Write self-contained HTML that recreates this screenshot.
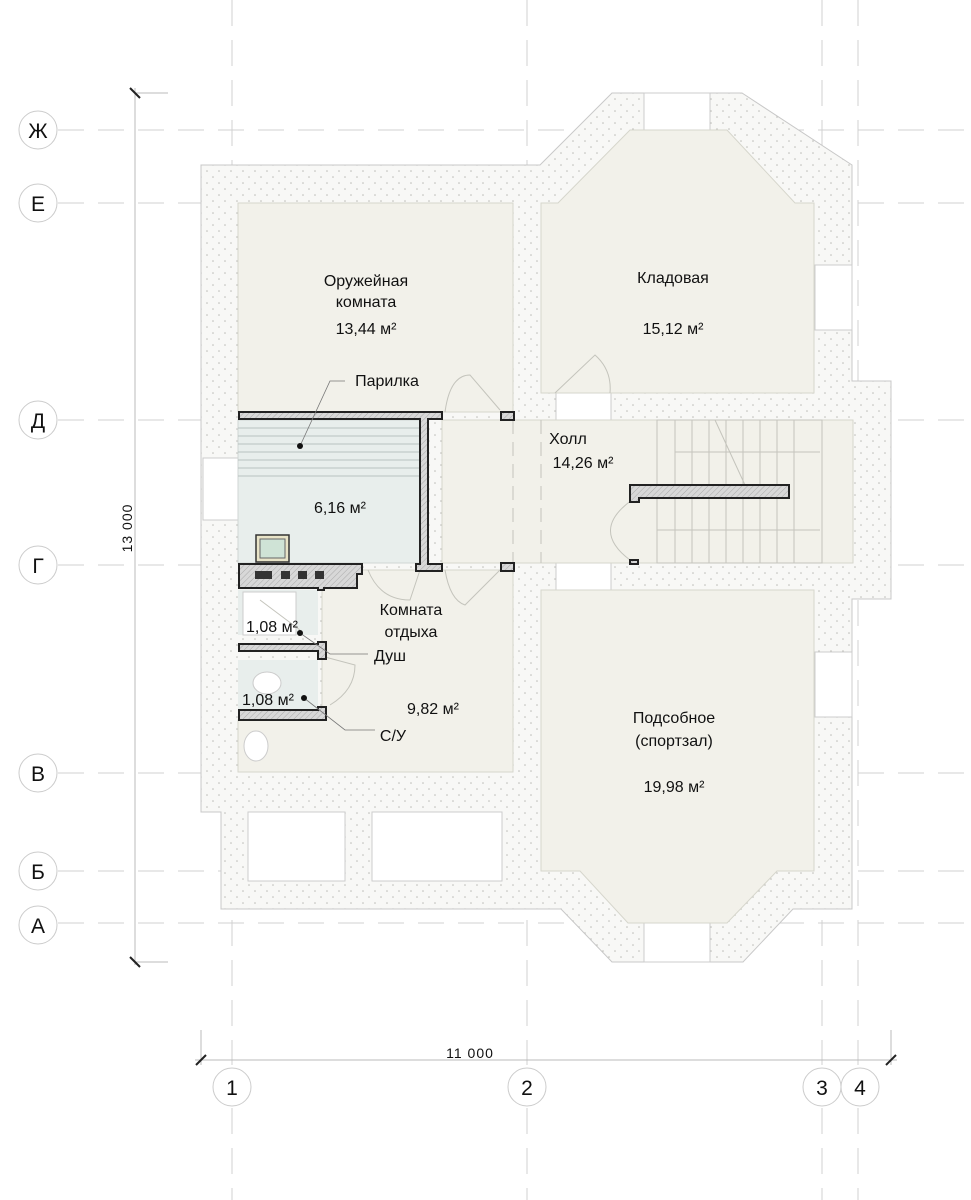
<!DOCTYPE html>
<html><head><meta charset="utf-8"><style>
html,body{margin:0;padding:0;background:#fff;}
svg{display:block;}
text{font-family:"Liberation Sans",sans-serif;fill:#111;}
</style></head><body>
<svg width="971" height="1200" viewBox="0 0 971 1200" xmlns="http://www.w3.org/2000/svg">
<defs>
<pattern id="dots" width="12" height="12" patternUnits="userSpaceOnUse">
<rect width="12" height="12" fill="#f8f8f6"/>
<circle cx="3" cy="3" r="0.8" fill="#bdbdb8"/>
<circle cx="9" cy="9" r="0.8" fill="#bdbdb8"/>
</pattern>
<pattern id="hatch" width="4" height="4" patternUnits="userSpaceOnUse" patternTransform="rotate(45)">
<rect width="4" height="4" fill="#d8d8d8"/><line x1="0" y1="0" x2="0" y2="4" stroke="#aaa" stroke-width="1"/>
</pattern>
</defs>

<g stroke="#d0d0d0" stroke-width="1" stroke-dasharray="26,14" fill="none">
<line x1="232" y1="0" x2="232" y2="1065"/>
<line x1="527" y1="0" x2="527" y2="1065"/>
<line x1="822" y1="0" x2="822" y2="1065"/>
<line x1="858" y1="0" x2="858" y2="1065"/>
<line x1="232" y1="1108" x2="232" y2="1200"/>
<line x1="527" y1="1108" x2="527" y2="1200"/>
<line x1="822" y1="1108" x2="822" y2="1200"/>
<line x1="858" y1="1108" x2="858" y2="1200"/>
<line x1="58" y1="130" x2="971" y2="130"/>
<line x1="58" y1="203" x2="971" y2="203"/>
<line x1="58" y1="420" x2="971" y2="420"/>
<line x1="58" y1="565" x2="971" y2="565"/>
<line x1="58" y1="773" x2="971" y2="773"/>
<line x1="58" y1="871" x2="971" y2="871"/>
<line x1="58" y1="923" x2="971" y2="923"/>
</g>

<path d="M201,165 L540,165 L612,93 L742,93 L852,165 L852,381 L891,381 L891,599 L852,599 L852,909 L793,909 L743,962 L612,962 L561,909 L221,909 L221,812 L201,812 Z" fill="url(#dots)" stroke="#c8c8c8" stroke-width="1"/>
<rect x="248" y="812" width="97" height="69" fill="#fff" stroke="#ccc"/>
<rect x="372" y="812" width="130" height="69" fill="#fff" stroke="#ccc"/>
<g fill="#fff" stroke="#ccc">
<rect x="644" y="93" width="66" height="37"/>
<rect x="644" y="923" width="66" height="39"/>
<rect x="815" y="265" width="37" height="65"/>
<rect x="815" y="652" width="37" height="65"/>
<rect x="203" y="458" width="35" height="62"/>
<rect x="556" y="393" width="55" height="27"/>
<rect x="556" y="562" width="55" height="28"/>
</g>

<g fill="#f2f1ea" stroke="#d6d6cc">
<rect x="238" y="203" width="275" height="209"/>
<path d="M541,203 L558,203 L630,130 L727,130 L795,203 L814,203 L814,393 L541,393 Z"/>
<rect x="442" y="420" width="411" height="143"/>
<path d="M322,570 L513,570 L513,772 L238,772 L238,720 L322,720 Z"/>
<path d="M541,590 L814,590 L814,871 L777,871 L727,923 L628,923 L580,871 L541,871 Z"/>
</g>
<rect x="238" y="420" width="182" height="143" fill="#e8eeec" stroke="#d0d6d4"/>
<g stroke="#b8c2c0" stroke-width="1">
<line x1="238" y1="428" x2="420" y2="428"/><line x1="238" y1="436" x2="420" y2="436"/>
<line x1="238" y1="444" x2="420" y2="444"/><line x1="238" y1="452" x2="420" y2="452"/>
<line x1="238" y1="460" x2="420" y2="460"/><line x1="238" y1="468" x2="420" y2="468"/>
<line x1="238" y1="476" x2="420" y2="476"/>
</g>
<rect x="238" y="590" width="80" height="45" fill="#e8eeec"/>
<rect x="238" y="660" width="80" height="55" fill="#e8eeec"/>
<rect x="243" y="592" width="53" height="43" fill="#fff" stroke="#ccc"/>
<ellipse cx="267" cy="683" rx="14" ry="11" fill="#fff" stroke="#ccc"/>
<ellipse cx="256" cy="746" rx="12" ry="15" fill="#fff" stroke="#ccc"/>

<g stroke="#c4c4bc" fill="none">
<rect x="657" y="420" width="165" height="143"/>
<line x1="675" y1="420" x2="675" y2="563"/><line x1="692" y1="420" x2="692" y2="563"/>
<line x1="709" y1="420" x2="709" y2="563"/><line x1="726" y1="420" x2="726" y2="563"/>
<line x1="743" y1="420" x2="743" y2="563"/><line x1="760" y1="420" x2="760" y2="563"/>
<line x1="777" y1="420" x2="777" y2="563"/><line x1="794" y1="420" x2="794" y2="563"/>
<line x1="675" y1="452" x2="820" y2="452"/><line x1="657" y1="530" x2="820" y2="530"/>
<line x1="715" y1="420" x2="745" y2="485"/>
<line x1="541" y1="420" x2="541" y2="563" stroke-dasharray="14,8"/>
<line x1="513" y1="420" x2="513" y2="563" stroke-dasharray="14,8"/>
<path d="M632,500 Q590,530 630,560"/>
<path d="M555,393 L595,355 Q612,370 610,393"/>
<path d="M445,412 Q450,375 470,375 L500,410"/>
<path d="M368,570 Q380,600 410,600 L420,570"/>
<path d="M445,570 Q450,600 465,605 L500,570"/>
<path d="M325,657 L355,665 Q355,690 330,705"/>
<line x1="260" y1="600" x2="300" y2="630"/>
</g>

<g fill="url(#hatch)" stroke="#222" stroke-width="2">
<path d="M239,412 L442,412 L442,419 L428,419 L428,564 L442,564 L442,571 L416,571 L416,564 L420,564 L420,419 L239,419 Z"/>
<rect x="501" y="412" width="13" height="8"/>
<rect x="501" y="563" width="13" height="8"/>
<path d="M239,564 L362,564 L362,574 L357,574 L357,588 L324,588 L324,590 L318,590 L318,588 L239,588 Z"/>
<path d="M239,644 L318,644 L318,642 L326,642 L326,659 L318,659 L318,651 L239,651 Z"/>
<path d="M239,710 L318,710 L318,707 L326,707 L326,720 L239,720 Z"/>
<path d="M630,485 L789,485 L789,498 L639,498 L639,502 L630,502 Z"/>
<rect x="630" y="560" width="8" height="4"/>
</g>
<g fill="#333"><rect x="255" y="571" width="17" height="8"/><rect x="281" y="571" width="9" height="8"/><rect x="298" y="571" width="9" height="8"/><rect x="315" y="571" width="9" height="8"/></g>
<rect x="256" y="535" width="33" height="27" fill="#e8e4c8" stroke="#333" stroke-width="1.5"/>
<rect x="260" y="539" width="25" height="19" fill="#cfe3d6" stroke="#666"/>

<g stroke="#777" fill="none" stroke-width="0.8">
<polyline points="300,446 330,381 345,381"/>
<polyline points="300,633 330,654 368,654"/>
<polyline points="304,698 345,730 375,730"/>
</g>
<g fill="#111"><circle cx="300" cy="446" r="3"/><circle cx="300" cy="633" r="3"/><circle cx="304" cy="698" r="3"/></g>

<g font-size="16" text-anchor="middle">
<text x="366" y="286">Оружейная</text>
<text x="366" y="307">комната</text>
<text x="366" y="334">13,44 м²</text>
<text x="387" y="386">Парилка</text>
<text x="673" y="283">Кладовая</text>
<text x="673" y="334">15,12 м²</text>
<text x="568" y="444">Холл</text>
<text x="583" y="468">14,26 м²</text>
<text x="340" y="513">6,16 м²</text>
<text x="411" y="615">Комната</text>
<text x="411" y="637">отдыха</text>
<text x="272" y="632">1,08 м²</text>
<text x="268" y="705">1,08 м²</text>
<text x="390" y="661">Душ</text>
<text x="393" y="741">С/У</text>
<text x="433" y="714">9,82 м²</text>
<text x="674" y="723">Подсобное</text>
<text x="674" y="746">(спортзал)</text>
<text x="674" y="792">19,98 м²</text>
</g>

<g stroke="#bbb" stroke-width="1">
<line x1="135" y1="88" x2="135" y2="965"/>
<line x1="135" y1="93" x2="168" y2="93"/>
<line x1="135" y1="962" x2="168" y2="962"/>
<line x1="195" y1="1060" x2="897" y2="1060"/>
<line x1="201" y1="1030" x2="201" y2="1065"/>
<line x1="891" y1="1030" x2="891" y2="1065"/>
</g>
<g stroke="#222" stroke-width="2">
<line x1="130" y1="88" x2="140" y2="98"/>
<line x1="130" y1="957" x2="140" y2="967"/>
<line x1="196" y1="1065" x2="206" y2="1055"/>
<line x1="886" y1="1065" x2="896" y2="1055"/>
</g>
<text x="470" y="1058" font-size="14" text-anchor="middle" letter-spacing="1">11 000</text>
<text transform="translate(132,528) rotate(-90)" font-size="14" text-anchor="middle" letter-spacing="1">13 000</text>

<g fill="#fff" stroke="#ccc">
<circle cx="38" cy="130" r="19"/><circle cx="38" cy="203" r="19"/><circle cx="38" cy="420" r="19"/>
<circle cx="38" cy="565" r="19"/><circle cx="38" cy="773" r="19"/><circle cx="38" cy="871" r="19"/>
<circle cx="38" cy="925" r="19"/>
<circle cx="232" cy="1087" r="19"/><circle cx="527" cy="1087" r="19"/><circle cx="822" cy="1087" r="19"/><circle cx="860" cy="1087" r="19"/>
</g>
<g font-size="21" text-anchor="middle">
<text x="38" y="138">Ж</text><text x="38" y="211">Е</text><text x="38" y="428">Д</text>
<text x="38" y="573">Г</text><text x="38" y="781">В</text><text x="38" y="879">Б</text><text x="38" y="933">А</text>
<text x="232" y="1095">1</text><text x="527" y="1095">2</text><text x="822" y="1095">3</text><text x="860" y="1095">4</text>
</g>
</svg>
</body></html>
